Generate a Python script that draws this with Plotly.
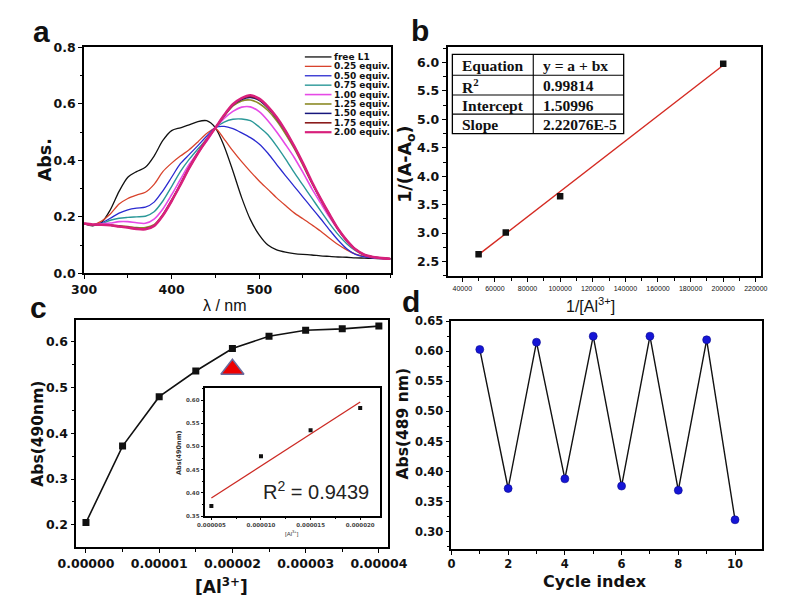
import numpy as np
import plotly.graph_objects as go

W, H = 787, 598


def PX(x):
    return x / W


def PY(y):
    return 1 - y / H


BOLD = "DejaVu Sans"
ARIAL = "Liberation Sans, Arial, sans-serif"
NARROW = "Liberation Sans Narrow, Liberation Sans, Arial, sans-serif"
SERIF = "Liberation Serif, Times New Roman, serif"

# ---------------- panel a : UV-vis spectra ----------------
wavelength = [300, 310, 320, 330, 340, 350, 360, 370, 380, 390, 400, 410, 420, 430, 440, 450,
              460, 470, 480, 490, 500, 510, 520, 530, 540, 550, 560, 570, 580, 590, 600, 610,
              620, 630, 640, 650]
abs_free_L1 = [0.175, 0.168, 0.180, 0.225, 0.290, 0.340, 0.360, 0.375, 0.415, 0.470, 0.505, 0.515,
               0.525, 0.537, 0.540, 0.515, 0.450, 0.362, 0.268, 0.190, 0.136, 0.100, 0.083, 0.075,
               0.070, 0.067, 0.065, 0.062, 0.060, 0.058, 0.057, 0.055, 0.054, 0.053, 0.052, 0.051]
abs_025 = [0.175, 0.172, 0.185, 0.210, 0.245, 0.265, 0.277, 0.287, 0.315, 0.360, 0.390, 0.415,
           0.437, 0.465, 0.495, 0.512, 0.475, 0.433, 0.395, 0.360, 0.327, 0.297, 0.267, 0.240,
           0.214, 0.193, 0.172, 0.150, 0.125, 0.102, 0.083, 0.068, 0.060, 0.055, 0.053, 0.051]
abs_050 = [0.175, 0.172, 0.178, 0.195, 0.213, 0.225, 0.231, 0.234, 0.252, 0.292, 0.340, 0.388,
           0.420, 0.452, 0.485, 0.516, 0.520, 0.512, 0.497, 0.480, 0.458, 0.425, 0.385, 0.346,
           0.308, 0.270, 0.232, 0.194, 0.155, 0.118, 0.087, 0.067, 0.058, 0.054, 0.052, 0.051]
abs_075 = [0.175, 0.172, 0.175, 0.188, 0.195, 0.198, 0.200, 0.202, 0.218, 0.256, 0.307, 0.360,
           0.403, 0.440, 0.475, 0.515, 0.535, 0.545, 0.546, 0.540, 0.518, 0.490, 0.450, 0.405,
           0.357, 0.312, 0.267, 0.222, 0.178, 0.138, 0.105, 0.080, 0.064, 0.057, 0.053, 0.051]
abs_100 = [0.175, 0.172, 0.175, 0.178, 0.183, 0.183, 0.179, 0.177, 0.192, 0.228, 0.278, 0.332,
           0.385, 0.428, 0.467, 0.513, 0.548, 0.573, 0.588, 0.589, 0.572, 0.540, 0.500, 0.456,
           0.410, 0.357, 0.301, 0.250, 0.200, 0.155, 0.115, 0.084, 0.066, 0.057, 0.053, 0.051]
abs_125 = [0.175, 0.172, 0.172, 0.170, 0.168, 0.166, 0.162, 0.162, 0.172, 0.208, 0.260, 0.316,
           0.375, 0.428, 0.475, 0.515, 0.556, 0.592, 0.610, 0.613, 0.601, 0.576, 0.540, 0.494,
           0.442, 0.382, 0.320, 0.262, 0.206, 0.156, 0.115, 0.084, 0.066, 0.058, 0.054, 0.052]
abs_150 = [0.176, 0.172, 0.172, 0.170, 0.167, 0.163, 0.159, 0.158, 0.169, 0.206, 0.257, 0.314,
           0.373, 0.426, 0.473, 0.515, 0.558, 0.595, 0.615, 0.622, 0.612, 0.585, 0.548, 0.502,
           0.447, 0.388, 0.323, 0.264, 0.209, 0.157, 0.116, 0.085, 0.066, 0.058, 0.054, 0.052]
abs_175 = [0.176, 0.172, 0.172, 0.170, 0.166, 0.162, 0.158, 0.157, 0.168, 0.205, 0.256, 0.313,
           0.372, 0.425, 0.472, 0.515, 0.559, 0.597, 0.618, 0.626, 0.615, 0.588, 0.550, 0.504,
           0.449, 0.389, 0.324, 0.265, 0.210, 0.158, 0.117, 0.085, 0.066, 0.058, 0.054, 0.052]
abs_200 = [0.177, 0.173, 0.172, 0.170, 0.166, 0.162, 0.157, 0.156, 0.168, 0.205, 0.256, 0.313,
           0.372, 0.425, 0.472, 0.515, 0.560, 0.598, 0.620, 0.630, 0.618, 0.590, 0.552, 0.505,
           0.450, 0.390, 0.325, 0.265, 0.210, 0.158, 0.117, 0.085, 0.066, 0.058, 0.054, 0.052]

spectra = [abs_free_L1, abs_025, abs_050, abs_075, abs_100, abs_125, abs_150, abs_175, abs_200]
spectra_labels = ["free L1", "0.25 equiv.", "0.50 equiv.", "0.75 equiv.", "1.00 equiv.",
                  "1.25 equiv.", "1.50 equiv.", "1.75 equiv.", "2.00 equiv."]
spectra_colors = ["#111111", "#d8432c", "#2b2bd0", "#2a9898", "#e64ae6", "#8c8a26",
                  "#16167c", "#8b1c1c", "#d8207c"]
spectra_widths = [1.3, 1.3, 1.3, 1.4, 1.6, 1.6, 1.5, 1.6, 2.6]

# ---------------- panel b : Benesi-Hildebrand ----------------
b_inv_conc = [50000, 66667, 100000, 200000]
b_inv_dA = [2.63, 3.01, 3.65, 5.98]
b_table_labels = ["Equation", "R<sup>2</sup>", "Intercept", "Slope"]
b_table_values = ["y = a + bx", "0.99814", "1.50996", "2.22076E-5"]
b_intercept = 1.50996
b_slope = 2.22076e-5

# ---------------- panel c : titration at 490 nm ----------------
c_conc = [0.0, 0.000005, 0.00001, 0.000015, 0.00002, 0.000025, 0.00003, 0.000035, 0.00004]
c_abs = [0.205, 0.372, 0.480, 0.536, 0.585, 0.612, 0.625, 0.628, 0.634]
c_mark_conc = [0.00002]
c_mark_abs = [0.54]
inset_conc = [0.000005, 0.00001, 0.000015, 0.00002]
inset_abs = [0.372, 0.479, 0.535, 0.583]
inset_r2_text = "R<sup>2</sup> = 0.9439"

# ---------------- panel d : reversibility ----------------
d_cycle = [1, 2, 3, 4, 5, 6, 7, 8, 9, 10]
d_abs = [0.603, 0.372, 0.615, 0.388, 0.625, 0.376, 0.625, 0.369, 0.619, 0.320]

fig = go.Figure()

# panel a traces
for ys, col, wd in zip(spectra, spectra_colors, spectra_widths):
    fig.add_trace(go.Scatter(x=wavelength, y=ys, mode="lines",
                             line=dict(color=col, width=wd, shape="spline", smoothing=0.8),
                             xaxis="x", yaxis="y", showlegend=False, hoverinfo="skip"))

# panel b traces
b_fit_x = [min(b_inv_conc), max(b_inv_conc)]
b_fit_y = [b_intercept + b_slope * v for v in b_fit_x]
fig.add_trace(go.Scatter(x=b_fit_x, y=b_fit_y, mode="lines", line=dict(color="#d42a22", width=1.4),
                         xaxis="x2", yaxis="y2", showlegend=False))
fig.add_trace(go.Scatter(x=b_inv_conc, y=b_inv_dA, mode="markers",
                         marker=dict(symbol="square", size=6.5, color="#111111"),
                         xaxis="x2", yaxis="y2", showlegend=False))

# panel c traces
fig.add_trace(go.Scatter(x=c_conc, y=c_abs, mode="lines+markers",
                         line=dict(color="#111111", width=1.6),
                         marker=dict(symbol="square", size=7, color="#111111"),
                         xaxis="x3", yaxis="y3", showlegend=False))
fig.add_trace(go.Scatter(x=c_mark_conc, y=c_mark_abs, mode="markers",
                         marker=dict(symbol="triangle-up", size=20, color="#ee0000",
                                     line=dict(color="#6b6b9e", width=1.5)),
                         xaxis="x3", yaxis="y3", showlegend=False))

# inset traces
coef = np.polyfit(inset_conc, inset_abs, 1)
inset_fit_x = [min(inset_conc), max(inset_conc)]
inset_fit_y = [coef[0] * v + coef[1] for v in inset_fit_x]
fig.add_trace(go.Scatter(x=inset_fit_x, y=inset_fit_y, mode="lines",
                         line=dict(color="#cc2a24", width=1.3),
                         xaxis="x5", yaxis="y5", showlegend=False))
fig.add_trace(go.Scatter(x=inset_conc, y=inset_abs, mode="markers",
                         marker=dict(symbol="square", size=4, color="#111111"),
                         xaxis="x5", yaxis="y5", showlegend=False))

# panel d traces
fig.add_trace(go.Scatter(x=d_cycle, y=d_abs, mode="lines+markers",
                         line=dict(color="#111111", width=1.4),
                         marker=dict(symbol="circle", size=8, color="#1515d6",
                                     line=dict(color="#0a0a90", width=0.6)),
                         xaxis="x4", yaxis="y4", showlegend=False))


def axis(domain, rng, anchor, dtick, tick0, minor_dtick, fmt, tsize, family=BOLD, weight="bold",
         tcolor="#111111", lw=1.7, ticklen=4, minorlen=2.5, tickwidth=1.3):
    return dict(domain=domain, range=rng, anchor=anchor, showline=True, linecolor="black",
                linewidth=lw, mirror=True, ticks="outside", ticklen=ticklen, tickwidth=tickwidth,
                tickcolor="black", tickmode="linear", dtick=dtick, tick0=tick0, tickformat=fmt,
                tickfont=dict(family=family, size=tsize, color=tcolor, weight=weight),
                showgrid=False, zeroline=False,
                minor=dict(dtick=minor_dtick, tick0=tick0, ticks="outside", ticklen=minorlen,
                           tickwidth=1, tickcolor="black", showgrid=False))


layout = dict(
    width=W, height=H, margin=dict(l=0, r=0, t=0, b=0),
    paper_bgcolor="white", plot_bgcolor="white", showlegend=False,
    xaxis=axis([PX(61), PX(383)], [300, 650], "y", 100, 300, 50, "d", 12.5),
    yaxis=axis([PY(264), PY(32)], [0, 0.8], "x", 0.2, 0, 0.1, ".1f", 12.5),
    xaxis2=axis([PX(443), PX(772)], [31000, 223000], "y2", 20000, 40000, 10000, "d", 7,
                family=NARROW, weight="normal"),
    yaxis2=axis([PY(267), PY(32)], [2.24, 6.27], "x2", 0.5, 2.5, 0.25, ".1f", 12.5),
    xaxis3=axis([PX(53), PX(380)], [-0.0000013, 0.0000412], "y3", 0.00001, 0, 0.000005, ".5f", 12.5,
                ticklen=3.5),
    yaxis3=axis([PY(545), PY(312)], [0.151, 0.647], "x3", 0.1, 0.2, 0.05, ".1f", 12.5),
    xaxis4=axis([PX(447), PX(773)], [0, 10.94], "y4", 2, 0, 1, "d", 11.5, ticklen=3.5),
    yaxis4=axis([PY(547), PY(313)], [0.271, 0.65], "x4", 0.05, 0.3, 0.025, ".2f", 11.5),
    xaxis5=axis([PX(188), PX(372)], [0.00000435, 0.0000220], "y5", 0.000005, 0.000005, 0.0000025,
                ".6f", 5.5, tcolor="#444444", lw=1.6, ticklen=2.5, minorlen=1.5, tickwidth=1),
    yaxis5=axis([PY(513), PY(382)], [0.35, 0.625], "x5", 0.05, 0.35, 0.025, ".2f", 5.5,
                tcolor="#444444", lw=1.6, ticklen=2.5, minorlen=1.5, tickwidth=1),
)
fig.update_layout(**layout)

ann = []
shapes = []


def text(x, y, s, size, family=BOLD, weight="bold", color="#111111", angle=0, xanchor="center",
         yanchor="middle"):
    ann.append(dict(x=PX(x), y=PY(y), xref="paper", yref="paper", text=s, showarrow=False,
                    font=dict(family=family, size=size, color=color, weight=weight),
                    textangle=angle, xanchor=xanchor, yanchor=yanchor))


# panel letters
text(16, 16, "a", 30, family=ARIAL)
text(414, 15, "b", 30, family=ARIAL)
text(13, 299, "c", 30, family=ARIAL)
text(405, 293, "d", 30, family=ARIAL)

# axis titles
text(20, 148, "Abs.", 17.5, angle=-90)
text(209, 297, "λ / nm", 16, family=NARROW, weight="normal")
text(400, 152, "1/(A-A<sub>o</sub>)", 17.5, angle=-90)
text(593, 296, "1/[Al<sup>3+</sup>]", 16, family=NARROW, weight="normal")
text(13, 428, "Abs(490nm)", 15.5, angle=-90)
text(205, 585, "[Al<sup>3+</sup>]", 17)
text(396, 418, "Abs(489 nm)", 15.5, angle=-90)
text(598, 580, "Cycle index", 16)

# inset titles and R2
text(161, 448, "Abs(490nm)", 6.5, angle=-90, color="#333333")
text(280, 530, "[Al<sup>3+</sup>]", 6, family=ARIAL, weight="normal", color="#333333")
text(305, 487, inset_r2_text, 20, family=ARIAL, weight="normal", color="#222222")

# legend for panel a
leg_y0, leg_dy = 42, 9.65
for i, (lab, col, wd) in enumerate(zip(spectra_labels, spectra_colors, spectra_widths)):
    yy = leg_y0 + i * leg_dy
    shapes.append(dict(type="line", xref="paper", yref="paper", x0=PX(293), x1=PX(321),
                       y0=PY(yy), y1=PY(yy), line=dict(color=col, width=min(wd, 2.2))))
    text(322, yy, lab, 9, xanchor="left")

# table in panel b
tx0, tx1, tx2 = 448, 533, 628
ty = [39.3, 60.7, 81, 100.7, 120.7]
shapes.append(dict(type="rect", xref="paper", yref="paper", x0=PX(tx0), x1=PX(tx2),
                   y0=PY(ty[-1]), y1=PY(ty[0]), line=dict(color="black", width=1.3)))
shapes.append(dict(type="line", xref="paper", yref="paper", x0=PX(tx1), x1=PX(tx1),
                   y0=PY(ty[-1]), y1=PY(ty[0]), line=dict(color="black", width=1.1)))
for yy in ty[1:-1]:
    shapes.append(dict(type="line", xref="paper", yref="paper", x0=PX(tx0), x1=PX(tx2),
                       y0=PY(yy), y1=PY(yy), line=dict(color="black", width=1.1)))
for i, (lab, val) in enumerate(zip(b_table_labels, b_table_values)):
    yc = (ty[i] + ty[i + 1]) / 2 + 0.5
    text(456, yc, lab, 15.5, family=SERIF, xanchor="left")
    text(541, yc, val, 15.5, family=SERIF, xanchor="left")

fig.update_layout(annotations=ann, shapes=shapes)
fig.write_html("out.html")
